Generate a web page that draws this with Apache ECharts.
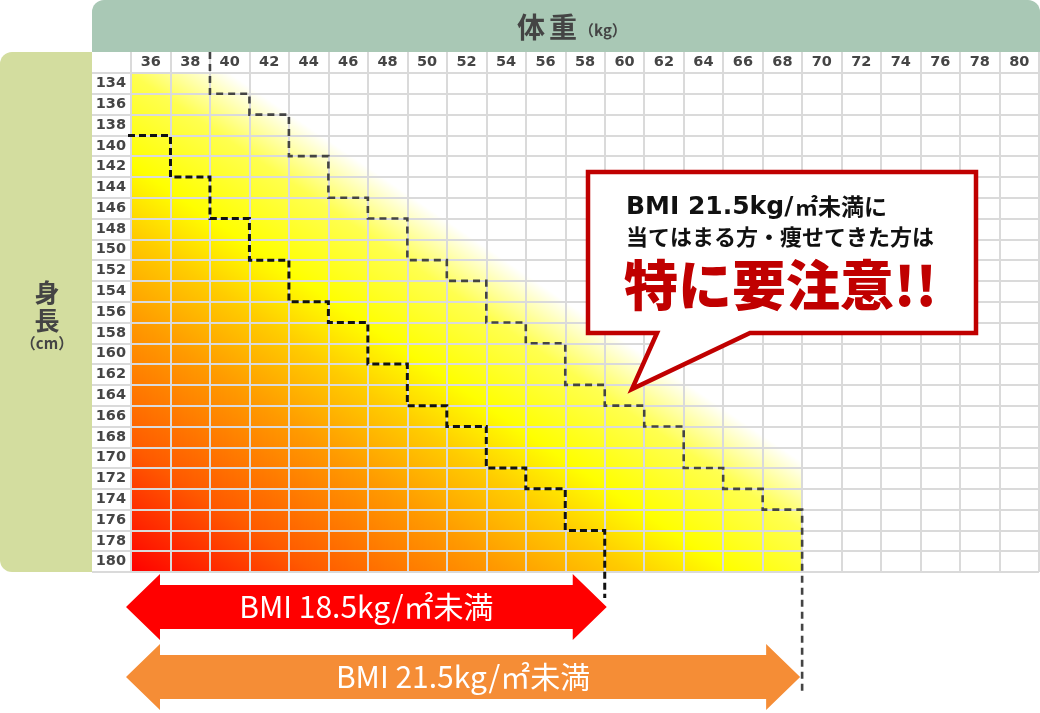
<!DOCTYPE html>
<html><head><meta charset="utf-8">
<script src="https://cdn.jsdelivr.net/npm/echarts@6/dist/echarts.min.js"></script>
<style>html,body{margin:0;padding:0;background:#fff}#c{width:1040px;height:713px}</style>
</head><body><div id="c"></div>
<script>
const weights = ['36','38','40','42','44','46','48','50','52','54','56','58','60','62','64','66','68','70','72','74','76','78','80'];
const heights = ['134','136','138','140','142','144','146','148','150','152','154','156','158','160','162','164','166','168','170','172','174','176','178','180'];
// heaviest weight column that still lies inside each band, one entry per height row (null = none)
const bmi185Max = [null,null,null,'36','36','38','38','40','40','42','42','44','46','46','48','48','50','52','52','54','56','56','58','58'];
const bmi215Max = ['38','40','42','42','44','44','46','48','48','50','52','52','54','56','56','58','60','62','62','64','66','68','68','68'];
// extent of the shaded (coloured) zone
const shadedWeights = ['36','68'];
const shadedHeights = ['134','180'];
const arrowLabels = ['BMI 18.5kg/㎡未満', 'BMI 21.5kg/㎡未満'];
const calloutLines = ['BMI 21.5kg/', '㎡未満に', '当てはまる方・痩せてきた方は', '特に要注意!!'];

const chart = echarts.init(document.getElementById('c'));
const GRID = {left: 131, top: 73, width: 908, height: 499};
const labelFont = {fontFamily: '"DejaVu Sans", sans-serif', fontWeight: 'bold', fontSize: 14.5, color: '#454545'};
const lineCol = '#dadada';

function cellGeom(api) {
  const cw = Math.abs(api.size([1, 0])[0]);
  const rh = Math.abs(api.size([0, 1])[1]);
  return {cw, rh};
}

function stepRender(maxArr, style, leadMode, tailLen) {
  return function (params, api) {
    const {cw, rh} = cellGeom(api);
    const pts = [];
    maxArr.forEach((w, i) => {
      if (w == null) return;
      const c = api.coord([weights.indexOf(w), i]);
      const x = c[0] + cw / 2, yTop = c[1] - rh / 2, yBot = c[1] + rh / 2;
      if (!pts.length) {
        if (leadMode === 'left') {
          const gl = api.coord([0, i])[0] - cw / 2;
          pts.push([gl - 3, yTop]);
        } else {
          pts.push([x, yTop - 21]);
        }
      }
      pts.push([x, yTop], [x, yBot]);
    });
    const last = pts[pts.length - 1];
    pts.push([last[0], last[1] + tailLen]);
    return {type: 'polyline', shape: {points: pts}, style: Object.assign({fill: null}, style)};
  };
}

const option = {
  animation: false,
  grid: Object.assign({}, GRID, {containLabel: false}),
  xAxis: {
    type: 'category', data: weights, position: 'top', z: 5,
    axisLine: {show: false},
    axisTick: {show: true, length: 21, lineStyle: {color: lineCol, width: 2}},
    axisLabel: Object.assign({margin: 3, interval: 0}, labelFont),
    splitLine: {show: true, interval: 0, lineStyle: {color: lineCol, width: 2}}
  },
  yAxis: {
    type: 'category', data: heights, inverse: true, z: 5,
    axisLine: {show: false},
    axisTick: {show: true, length: 39, lineStyle: {color: lineCol, width: 2}},
    axisLabel: Object.assign({margin: 5, interval: 0}, labelFont),
    splitLine: {show: true, interval: 0, lineStyle: {color: lineCol, width: 2}}
  },
  series: [
    {
      type: 'custom', z: 1, silent: true, data: [[0, 0]],
      renderItem: function (params, api) {
        const {cw, rh} = cellGeom(api);
        const a = api.coord([weights.indexOf(shadedWeights[0]), heights.indexOf(shadedHeights[0])]);
        const b = api.coord([weights.indexOf(shadedWeights[1]), heights.indexOf(shadedHeights[1])]);
        const x0 = a[0] - cw / 2, y0 = a[1] - rh / 2, x1 = b[0] + cw / 2, y1 = b[1] + rh / 2;
        const W = x1 - x0, H = y1 - y0;
        const grad = new echarts.graphic.LinearGradient(x0, y1, x0 + 0.392 * W, y1 - 0.776 * H, [
          {offset: 0, color: '#ff0000'},
          {offset: 0.22, color: '#ff5a00'},
          {offset: 0.45, color: '#ff9a00'},
          {offset: 0.6, color: '#ffcc00'},
          {offset: 0.72, color: '#ffff00'},
          {offset: 0.88, color: '#ffff50'},
          {offset: 1, color: '#ffffff'}
        ], true);
        return {type: 'rect', shape: {x: x0, y: y0, width: W, height: H}, style: {fill: grad}};
      }
    },
    {
      type: 'custom', z: 10, silent: true, data: [[0, 0]],
      renderItem: stepRender(bmi215Max, {stroke: '#444', lineWidth: 2.6, lineDash: [7, 5]}, 'top', 120)
    },
    {
      type: 'custom', z: 11, silent: true, data: [[0, 0]],
      renderItem: stepRender(bmi185Max, {stroke: '#111', lineWidth: 3, lineDash: [7, 4]}, 'left', 26)
    }
  ]
};
chart.setOption(option);

// arrows and decorations
function colRight(w) {
  const c = chart.convertToPixel({xAxisIndex: 0}, w);
  return c + GRID.width / weights.length / 2;
}
const leftX = GRID.left - 5;
const redRight = colRight(bmi185Max[bmi185Max.length - 1]) + 2;
const orRight = colRight(bmi215Max[bmi215Max.length - 1]) - 2;

function arrow(x0, x1, cy, color, label, head, hh, bh) {
  const pts = [
    [x0, cy], [x0 + head, cy - hh], [x0 + head, cy - bh], [x1 - head, cy - bh], [x1 - head, cy - hh],
    [x1, cy], [x1 - head, cy + hh], [x1 - head, cy + bh], [x0 + head, cy + bh], [x0 + head, cy + hh]
  ];
  return [
    {type: 'polygon', z: 100, shape: {points: pts}, style: {fill: color}},
    {type: 'text', z: 101, x: (x0 + x1) / 2, y: cy,
      style: {text: label, fill: '#fff', fontSize: 30, fontFamily: '"Noto Sans CJK JP"', fontWeight: 'normal',
        align: 'center', verticalAlign: 'middle', textAlign: 'center', textVerticalAlign: 'middle'}}
  ];
}

const T = (text, x, y, size, extra) => ({
  type: 'text', z: 101, x: x, y: y,
  style: Object.assign({text: text, fill: '#444', fontSize: size, fontWeight: 'bold', fontFamily: '"Noto Sans CJK JP"',
    align: 'center', verticalAlign: 'middle', textAlign: 'center', textVerticalAlign: 'middle'}, extra || {})
});

const elements = [
  {type: 'rect', z: -1, shape: {x: 92, y: 0, width: 948, height: 52, r: [12, 12, 0, 0]}, style: {fill: '#a9c8b5'}},
  {type: 'rect', z: -1, shape: {x: 0, y: 52, width: 92, height: 520, r: [12, 0, 0, 12]}, style: {fill: '#d3dd9f'}},
  T('体', 531, 27, 28),
  T('重', 563, 27, 28),
  T('（kg）', 579, 30, 15, {align: 'left', textAlign: 'left'}),
  T('身', 47, 292, 25),
  T('長', 47, 320, 25),
  T('（cm）', 47, 343, 15),
  {type: 'polygon', z: 100,
    shape: {points: [[588, 172], [976, 172], [976, 333], [750, 333], [632, 389], [657, 333], [588, 333]]},
    style: {fill: '#fff', stroke: '#c00000', lineWidth: 4.5, lineJoin: 'miter'}},
  T(calloutLines[0], 626, 207, 25, {fill: '#111', align: 'left', textAlign: 'left', fontFamily: '"DejaVu Sans", sans-serif'}),
  T(calloutLines[1], 795, 206, 23, {fill: '#111', align: 'left', textAlign: 'left'}),
  T(calloutLines[2], 626, 237, 22, {fill: '#111', align: 'left', textAlign: 'left'}),
  T(calloutLines[3], 624, 285, 54, {fill: '#c00000', align: 'left', textAlign: 'left', fontWeight: 900})
].concat(
  arrow(leftX, redRight, 607, '#ff0000', arrowLabels[0], 34, 33, 22),
  arrow(leftX, orRight, 677, '#f58d36', arrowLabels[1], 34, 33, 22)
);
chart.setOption({graphic: {elements: elements}});
</script></body></html>
